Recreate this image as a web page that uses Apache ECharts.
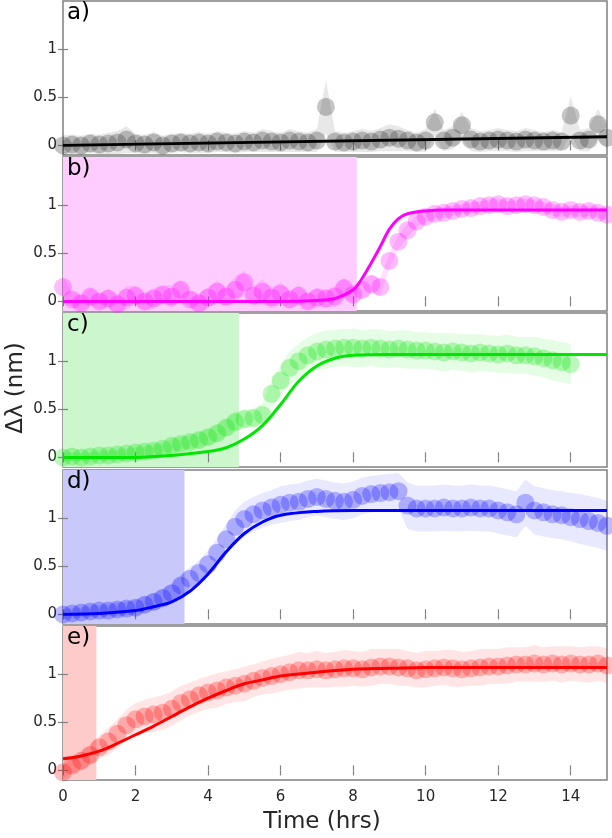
<!DOCTYPE html>
<html>
<head>
<meta charset="utf-8">
<script src="https://cdn.jsdelivr.net/npm/echarts@6/dist/echarts.min.js"></script>
<style>
  html, body { margin: 0; padding: 0; background: #fff; }
  #chart { width: 612px; height: 838px; }
</style>
</head>
<body>
<div id="chart"></div>
<script>
// sample times (hrs)
const hours = [
  0, 0.25, 0.5, 0.75, 1, 1.25, 1.5, 1.75, 2, 2.25, 2.5, 2.75,
  3, 3.25, 3.5, 3.75, 4, 4.25, 4.5, 4.75, 5, 5.25, 5.5, 5.75,
  6, 6.25, 6.5, 6.75, 7, 7.25, 7.5, 7.75, 8, 8.25, 8.5, 8.75,
  9, 9.25, 9.5, 9.75, 10, 10.25, 10.5, 10.75, 11, 11.25, 11.5, 11.75,
  12, 12.25, 12.5, 12.75, 13, 13.25, 13.5, 13.75, 14, 14.25, 14.5, 14.75, 15
];
const hoursC = hours.slice(0, 57); // panel c stops at 14 h

const valsA = [
  0.00, 0.01, 0.00, 0.02,  0.01, 0.02, 0.03, 0.06,  0.02, 0.01, 0.03, 0.00,
  0.02, 0.03, 0.02, 0.03,  0.02, 0.04, 0.03, 0.02,  0.04, 0.03, 0.05, 0.04,
  0.03, 0.05, 0.04, 0.03,  0.05, 0.40, 0.04, 0.03,  0.04, 0.05, 0.04, 0.06,
  0.08, 0.07, 0.05, 0.03,  0.05, 0.24, 0.05, 0.08,  0.21, 0.06, 0.04, 0.05,
  0.06, 0.05, 0.04, 0.06,  0.05, 0.04, 0.05, 0.04,  0.31, 0.05, 0.06, 0.22, 0.08
];
const errA = [
  0.11, 0.10, 0.10, 0.10,  0.10, 0.11, 0.12, 0.14,  0.10, 0.10, 0.11, 0.10,
  0.10, 0.10, 0.10, 0.11,  0.10, 0.11, 0.10, 0.10,  0.11, 0.10, 0.12, 0.11,
  0.10, 0.12, 0.11, 0.10,  0.12, 0.28, 0.11, 0.10,  0.11, 0.12, 0.11, 0.12,
  0.14, 0.13, 0.11, 0.10,  0.12, 0.14, 0.11, 0.12,  0.14, 0.12, 0.11, 0.11,
  0.12, 0.11, 0.11, 0.12,  0.11, 0.10, 0.11, 0.10,  0.20, 0.11, 0.12, 0.16, 0.12
];

const valsB = [
  0.15, 0.02, -0.02, 0.05,  0.00, 0.03, -0.03, 0.04,  0.06, 0.00, 0.03, 0.07,
  0.05, 0.12, 0.02, -0.02,  0.04, 0.10, 0.05, 0.12,  0.20, 0.06, 0.10, 0.04,
  0.08, 0.02, 0.06, 0.00,  0.04, 0.03, 0.05, 0.14,  0.07, 0.12, 0.18, 0.15,
  0.42, 0.62, 0.74, 0.83,  0.88, 0.91, 0.92, 0.94,  0.96, 0.97, 0.99, 1.00,
  1.01, 0.99, 1.00, 1.01,  1.00, 0.98, 0.95, 0.93,  0.95, 0.93, 0.94, 0.92, 0.90
];
const errB = [
  0.10, 0.08, 0.08, 0.09,  0.08, 0.10, 0.09, 0.12,  0.10, 0.09, 0.11, 0.10,
  0.12, 0.10, 0.09, 0.10,  0.11, 0.12, 0.10, 0.14,  0.12, 0.10, 0.13, 0.11,
  0.12, 0.09, 0.10, 0.08,  0.10, 0.09, 0.11, 0.10,  0.08, 0.09, 0.10, 0.09,
  0.08, 0.07, 0.07, 0.06,  0.06, 0.05, 0.06, 0.05,  0.05, 0.06, 0.05, 0.06,
  0.06, 0.05, 0.05, 0.06,  0.05, 0.05, 0.06, 0.05,  0.05, 0.06, 0.05, 0.06, 0.05
];

const valsC = [
  0.00, 0.01, 0.00, 0.01,  0.02, 0.02, 0.03, 0.04,  0.05, 0.06, 0.07, 0.09,
  0.12, 0.14, 0.16, 0.18,  0.21, 0.25, 0.31, 0.37,  0.40, 0.41, 0.44, 0.66,
  0.80, 0.93, 1.00, 1.06,  1.10, 1.12, 1.13, 1.14,  1.14, 1.13, 1.14, 1.13,
  1.12, 1.13, 1.12, 1.11,  1.11, 1.10, 1.09, 1.10,  1.09, 1.08, 1.09, 1.08,
  1.07, 1.08, 1.06, 1.06,  1.05, 1.03, 1.01, 0.99,  0.97
];
const errC = [
  0.04, 0.04, 0.04, 0.04,  0.04, 0.05, 0.05, 0.05,  0.05, 0.06, 0.06, 0.06,
  0.07, 0.07, 0.07, 0.08,  0.08, 0.09, 0.09, 0.10,  0.10, 0.10, 0.12, 0.14,
  0.16, 0.17, 0.18, 0.19,  0.19, 0.20, 0.19, 0.19,  0.20, 0.19, 0.19, 0.20,
  0.19, 0.19, 0.20, 0.19,  0.19, 0.19, 0.20, 0.19,  0.19, 0.20, 0.19, 0.19,
  0.19, 0.20, 0.19, 0.19,  0.20, 0.20, 0.21, 0.21,  0.21
];

const valsD = [
  0.00, 0.01, 0.02, 0.03,  0.04, 0.04, 0.05, 0.06,  0.07, 0.10, 0.13, 0.17,
  0.22, 0.30, 0.37, 0.43,  0.52, 0.64, 0.78, 0.91,  0.99, 1.04, 1.08, 1.11,
  1.14, 1.16, 1.17, 1.20,  1.22, 1.20, 1.18, 1.17,  1.19, 1.23, 1.25, 1.26,
  1.27, 1.28, 1.13, 1.10,  1.10, 1.10, 1.11, 1.10,  1.10, 1.11, 1.10, 1.10,
  1.08, 1.06, 1.04, 1.16,  1.08, 1.06, 1.04, 1.03,  1.01, 0.99, 0.97, 0.95, 0.92
];
const errD = [
  0.05, 0.05, 0.05, 0.06,  0.06, 0.06, 0.07, 0.07,  0.08, 0.08, 0.09, 0.10,
  0.10, 0.11, 0.12, 0.13,  0.14, 0.15, 0.16, 0.17,  0.18, 0.18, 0.18, 0.18,
  0.19, 0.19, 0.19, 0.19,  0.19, 0.19, 0.19, 0.19,  0.19, 0.19, 0.19, 0.19,
  0.19, 0.19, 0.24, 0.24,  0.24, 0.24, 0.24, 0.24,  0.24, 0.24, 0.24, 0.24,
  0.24, 0.24, 0.24, 0.24,  0.25, 0.25, 0.25, 0.25,  0.25, 0.26, 0.26, 0.26, 0.26
];

const valsE = [
  -0.02, 0.05, 0.10, 0.16,  0.24, 0.30, 0.38, 0.47,  0.53, 0.56, 0.58, 0.60,
  0.64, 0.70, 0.74, 0.78,  0.81, 0.83, 0.86, 0.88,  0.90, 0.93, 0.96, 0.98,
  1.00, 1.02, 1.04, 1.04,  1.05, 1.04, 1.05, 1.06,  1.06, 1.05, 1.07, 1.08,
  1.08, 1.07, 1.06, 1.04,  1.05, 1.06, 1.07, 1.06,  1.05, 1.06, 1.07, 1.08,
  1.08, 1.09, 1.10, 1.10,  1.11, 1.10, 1.11, 1.10,  1.11, 1.10, 1.10, 1.11, 1.09
];
const errE = [
  0.07, 0.08, 0.10, 0.11,  0.12, 0.14, 0.15, 0.16,  0.17, 0.17, 0.18, 0.18,
  0.18, 0.18, 0.17, 0.17,  0.17, 0.18, 0.17, 0.17,  0.18, 0.17, 0.17, 0.18,
  0.18, 0.18, 0.19, 0.18,  0.19, 0.18, 0.18, 0.19,  0.18, 0.18, 0.19, 0.18,
  0.18, 0.19, 0.18, 0.18,  0.19, 0.18, 0.18, 0.19,  0.18, 0.18, 0.19, 0.18,
  0.18, 0.19, 0.18, 0.18,  0.19, 0.18, 0.18, 0.19,  0.18, 0.18, 0.19, 0.18, 0.18
];

// fitted curves at a few times
const fitTimesA = [0, 15];
const fitA = [0.0, 0.09];
const fitTimesB = [0, 3, 6, 7, 7.5, 8, 8.25, 8.5, 8.75, 9, 9.25, 9.5, 10, 10.5, 11, 12, 13, 14, 15];
const fitB = [0, 0, 0, 0.01, 0.03, 0.12, 0.24, 0.40, 0.57, 0.75, 0.86, 0.91, 0.94, 0.95, 0.95, 0.95, 0.95, 0.95, 0.95];
const fitTimesC = [0, 1, 2, 3, 4, 4.5, 5, 5.5, 6, 6.5, 7, 7.5, 8, 9, 10, 11, 12, 13, 14, 15];
const fitC = [0, 0, 0, 0.02, 0.06, 0.10, 0.19, 0.33, 0.55, 0.79, 0.95, 1.03, 1.06, 1.07, 1.07, 1.07, 1.07, 1.07, 1.07, 1.07];
const fitTimesD = [0, 1, 2, 2.5, 3, 3.5, 4, 4.5, 5, 5.5, 6, 7, 8, 9, 10, 11, 12, 13, 14, 15];
const fitD = [0, 0.01, 0.04, 0.08, 0.13, 0.24, 0.42, 0.65, 0.84, 0.96, 1.03, 1.07, 1.08, 1.08, 1.08, 1.08, 1.08, 1.08, 1.08, 1.08];
const fitTimesE = [0, 0.5, 1, 1.5, 2, 2.5, 3, 3.5, 4, 4.5, 5, 5.5, 6, 7, 8, 9, 10, 11, 12, 13, 14, 15];
const fitE = [0.12, 0.15, 0.20, 0.28, 0.37, 0.46, 0.56, 0.66, 0.75, 0.83, 0.90, 0.94, 0.98, 1.02, 1.05, 1.06, 1.07, 1.07, 1.07, 1.07, 1.07, 1.07];

// end of the shaded window in each panel (hrs)
const shadeEnds = [null, 8.1, 4.85, 3.35, 0.92];

const panelLabels = ['a)', 'b)', 'c)', 'd)', 'e)'];
const xTicks = [0, 2, 4, 6, 8, 10, 12, 14];
const yTicks = [0, 0.5, 1];

const panels = [
  { t: hours,  y: valsA, e: errA, ft: fitTimesA, f: fitA, line: '#000000', dot: 'rgba(50,50,50,0.36)',  band: 'rgba(0,0,0,0.09)',     shade: null },
  { t: hours,  y: valsB, e: errB, ft: fitTimesB, f: fitB, line: '#ff00ff', dot: 'rgba(255,0,255,0.33)', band: 'rgba(255,0,255,0.12)', shade: '#ffccff' },
  { t: hoursC, y: valsC, e: errC, ft: fitTimesC, f: fitC, line: '#00e600', dot: 'rgba(0,230,0,0.33)',   band: 'rgba(0,230,0,0.10)',   shade: '#ccf7cc' },
  { t: hours,  y: valsD, e: errD, ft: fitTimesD, f: fitD, line: '#0000ff', dot: 'rgba(0,0,255,0.33)',   band: 'rgba(0,0,255,0.09)',   shade: '#c8c8fa' },
  { t: hours,  y: valsE, e: errE, ft: fitTimesE, f: fitE, line: '#ff0000', dot: 'rgba(255,0,0,0.33)',   band: 'rgba(255,0,0,0.10)',   shade: '#ffcaca' }
];

const tops = [1, 157, 313, 470, 626];
const H = 154;
const axisGray = '#808080';
const font = 'DejaVu Sans';

const grid = [], xAxis = [], yAxis = [], series = [], graphic = [];

panels.forEach((p, i) => {
  grid.push({ left: 63, right: 5, top: tops[i], height: H, show: true,
    borderColor: axisGray, borderWidth: 1.5, backgroundColor: 'transparent' });

  ['bottom', 'top'].forEach((pos, k) => {
    xAxis.push({
      gridIndex: i, type: 'value', min: 0, max: 15, position: pos,
      axisLine: { show: false },
      splitLine: { show: false },
      axisTick: { inside: true, length: 5, customValues: xTicks, lineStyle: { color: axisGray, width: 1.2 } },
      axisLabel: { show: i === 4 && k === 0, customValues: xTicks, fontSize: 15, fontFamily: font, color: '#262626', margin: 10 }
    });
  });
  ['left', 'right'].forEach((pos, k) => {
    yAxis.push({
      gridIndex: i, type: 'value', min: -0.1, max: 1.5, position: pos,
      axisLine: { show: false },
      splitLine: { show: false },
      axisTick: { inside: true, length: 5, customValues: yTicks, lineStyle: { color: axisGray, width: 1.2 } },
      axisLabel: { show: k === 0, customValues: yTicks, fontSize: 15, fontFamily: font, color: '#262626', margin: 6 }
    });
  });

  const xi = i * 2, yi = i * 2;

  if (p.shade) {
    series.push({
      type: 'custom', xAxisIndex: xi, yAxisIndex: yi, silent: true, z: 0,
      data: [[0, shadeEnds[i]]],
      renderItem: (params, api) => {
        const a = api.coord([api.value(0), 1.5]);
        const b = api.coord([api.value(1), -0.1]);
        return { type: 'rect', shape: { x: a[0], y: a[1], width: b[0] - a[0], height: b[1] - a[1] },
          style: { fill: p.shade } };
      }
    });
  }

  series.push({
    type: 'custom', xAxisIndex: xi, yAxisIndex: yi, silent: true, z: 1, clip: true,
    data: [[0, 0]],
    renderItem: (params, api) => {
      const up = [], lo = [];
      p.t.forEach((t, k) => {
        up.push(api.coord([t, p.y[k] + p.e[k]]));
        lo.push(api.coord([t, p.y[k] - p.e[k]]));
      });
      return { type: 'polygon', shape: { points: up.concat(lo.reverse()) }, style: { fill: p.band } };
    }
  });

  series.push({
    type: 'scatter', xAxisIndex: xi, yAxisIndex: yi, silent: true, z: 2,
    symbolSize: 18,
    itemStyle: { color: p.dot },
    data: p.t.map((t, k) => [t, p.y[k]])
  });

  series.push({
    type: 'line', xAxisIndex: xi, yAxisIndex: yi, silent: true, z: 3,
    smooth: 0.35, showSymbol: false, symbol: 'none',
    lineStyle: { color: p.line, width: 3 },
    data: p.ft.map((t, k) => [t, p.f[k]])
  });

  graphic.push({ type: 'text', left: 67, top: tops[i] + 1, z: 100,
    style: { text: panelLabels[i], font: '23px "DejaVu Sans"', fill: '#000' } });
});

graphic.push({ type: 'text', x: 322, y: 834, z: 100,
  style: { text: 'Time (hrs)', font: '23px "DejaVu Sans"', fill: '#262626', textAlign: 'center', textVerticalAlign: 'bottom' } });
graphic.push({ type: 'text', x: 16, y: 388, rotation: Math.PI / 2, z: 100,
  style: { text: 'Δλ (nm)', font: '23px "DejaVu Sans"', fill: '#262626', textAlign: 'center', textVerticalAlign: 'middle' } });

const chart = echarts.init(document.getElementById('chart'));
chart.setOption({
  animation: false,
  backgroundColor: '#fff',
  grid, xAxis, yAxis, series, graphic
});
</script>
</body>
</html>
